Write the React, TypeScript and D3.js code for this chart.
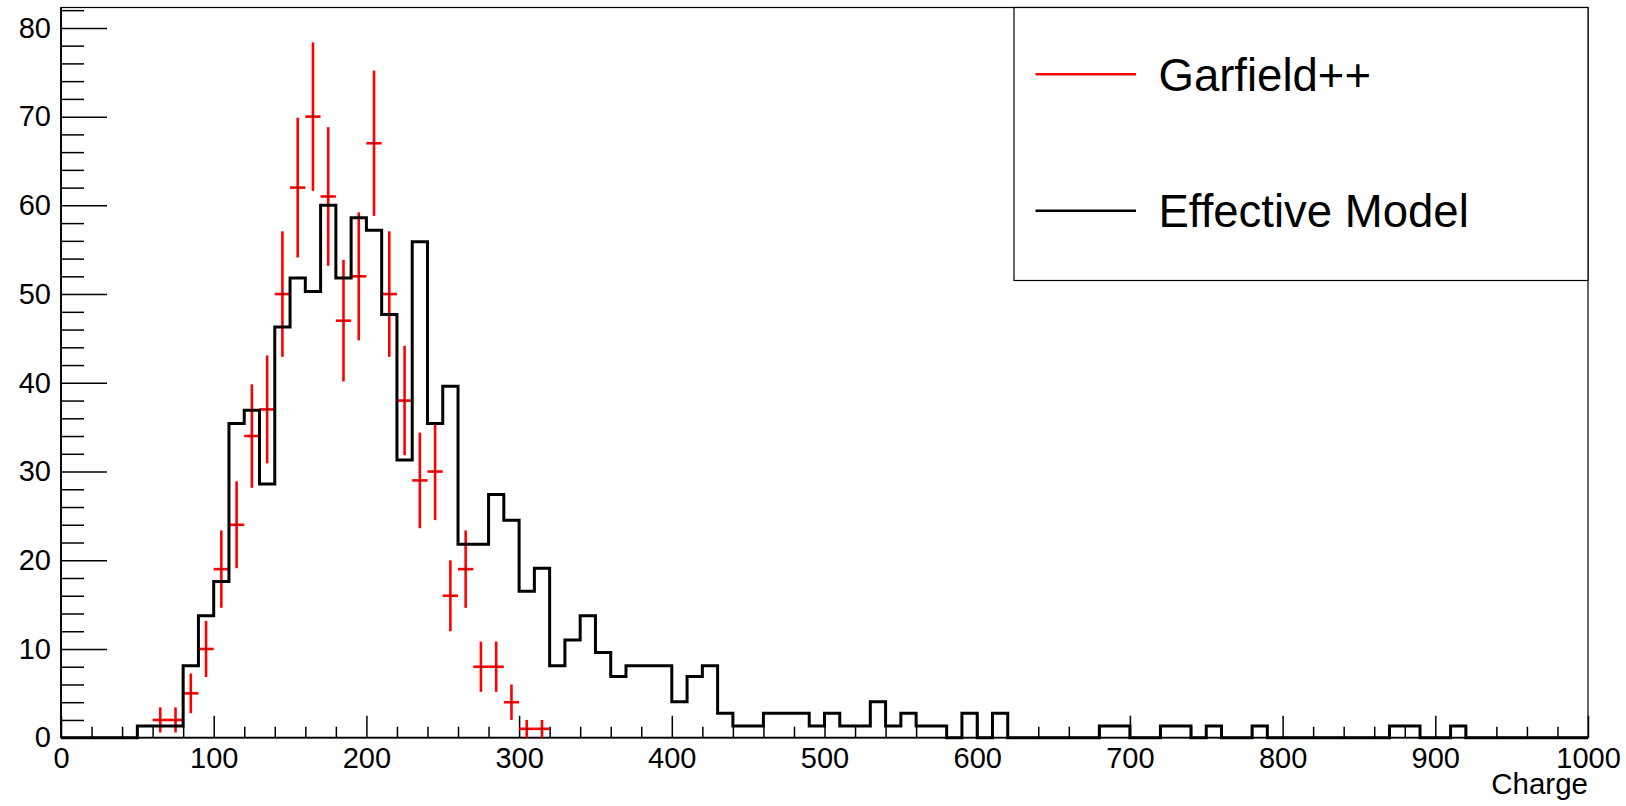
import { useRef, useEffect } from "react";
import { select, scaleLinear, axisBottom, axisLeft, line, range } from "d3";

const W = 1626;
const H = 806;
const frame = { left: 61, right: 1588, top: 7.5, bottom: 737.7 };
const FONT = "'Liberation Sans', Arial, Helvetica, sans-serif";

// bin width of both histograms (Charge units)
const binWidth = 10;

// Effective Model histogram, 100 bins from 0 to 1000 (normalised heights)
const effectiveModel = [
  0, 0, 0, 0, 0, 1.33, 1.33, 1.33, 8.12, 13.75,
  17.6, 35.4, 36.9, 28.6, 46.3, 51.8, 50.3, 60.0, 51.8, 58.6,
  57.2, 47.7, 31.3, 55.9, 35.4, 39.6, 21.8, 21.8, 27.4, 24.5,
  16.5, 19.1, 8.12, 11.0, 13.75, 9.6, 6.9, 8.12, 8.12, 8.12,
  4.06, 6.9, 8.12, 2.75, 1.33, 1.33, 2.75, 2.75, 2.75, 1.33,
  2.75, 1.33, 1.33, 4.06, 1.33, 2.75, 1.33, 1.33, 0, 2.75,
  0, 2.75, 0, 0, 0, 0, 0, 0, 1.33, 1.33,
  0, 0, 1.33, 1.33, 0, 1.33, 0, 0, 1.33, 0,
  0, 0, 0, 0, 0, 0, 0, 1.33, 1.33, 0,
  0, 1.33, 0, 0, 0, 0, 0, 0, 0, 0,
];

// Garfield++ counts (lower bin edge -> entries), errors are sqrt(N)
const garfieldBins = [60, 70, 80, 90, 100, 110, 120, 130, 140, 150, 160, 170, 180,
  190, 200, 210, 220, 230, 240, 250, 260, 270, 280, 290, 300, 310];
const garfieldCounts = [2, 2, 5, 10, 19, 24, 34, 37, 50, 62, 70, 61, 47,
  52, 67, 50, 38, 29, 30, 16, 19, 8, 8, 4, 1, 1];

const xMajorTicks = [0, 100, 200, 300, 400, 500, 600, 700, 800, 900, 1000];
const yMajorTicks = [0, 10, 20, 30, 40, 50, 60, 70, 80];
const legendLabels = ["Garfield++", "Effective Model"];
const legendColors = ["#ff0000", "#000000"];
const xTitle = "Charge";
const yMax = 82.3;

function App() {
  const svgRef = useRef<SVGSVGElement>(null);

  useEffect(() => {
    const svg = select(svgRef.current);
    svg.selectAll("*").remove();

    const x = scaleLinear().domain([0, 1000]).range([frame.left, frame.right]);
    const y = scaleLinear().domain([0, yMax]).range([frame.bottom, frame.top]);

    // frame
    svg.append("rect")
      .attr("x", frame.left)
      .attr("y", frame.top)
      .attr("width", frame.right - frame.left)
      .attr("height", frame.bottom - frame.top)
      .attr("fill", "none")
      .attr("stroke", "#000")
      .attr("stroke-width", 1.2);

    // x axis: minor ticks then major ticks with labels
    const xMinor = range(0, 1001, 20).filter(v => v % 100 !== 0);
    svg.append("g")
      .attr("transform", `translate(0,${frame.bottom})`)
      .call(axisBottom(x).tickValues(xMinor).tickSize(-11).tickFormat(() => ""))
      .call(g => g.select(".domain").remove());
    const gx = svg.append("g")
      .attr("transform", `translate(0,${frame.bottom})`)
      .call(axisBottom(x).tickValues(xMajorTicks).tickSize(-22).tickPadding(9.5).tickFormat(d => String(d)))
      .call(g => g.select(".domain").remove());
    gx.selectAll("text").style("font-family", FONT).style("font-size", "29px").attr("fill", "#000");

    // y axis
    const yMinor = range(0, yMax, 2).filter(v => v % 10 !== 0);
    svg.append("g")
      .attr("transform", `translate(${frame.left},0)`)
      .call(axisLeft(y).tickValues(yMinor).tickSize(-23).tickFormat(() => ""))
      .call(g => g.select(".domain").remove());
    const gy = svg.append("g")
      .attr("transform", `translate(${frame.left},0)`)
      .call(axisLeft(y).tickValues(yMajorTicks).tickSize(-46).tickPadding(10).tickFormat(d => String(d)))
      .call(g => g.select(".domain").remove());
    gy.selectAll("text").style("font-family", FONT).style("font-size", "29px").attr("fill", "#000");

    svg.selectAll(".tick line").attr("stroke", "#000").attr("stroke-width", 1.5);

    // axis lines
    svg.append("line")
      .attr("x1", frame.left).attr("x2", frame.right)
      .attr("y1", frame.bottom).attr("y2", frame.bottom)
      .attr("stroke", "#000").attr("stroke-width", 1.8);
    svg.append("line")
      .attr("x1", frame.left).attr("x2", frame.left)
      .attr("y1", frame.bottom).attr("y2", frame.top)
      .attr("stroke", "#000").attr("stroke-width", 1.8);

    // x title
    svg.append("text")
      .attr("x", frame.right)
      .attr("y", 794)
      .attr("text-anchor", "end")
      .style("font-family", FONT)
      .style("font-size", "29.5px")
      .text(xTitle);

    // Garfield++ error crosses
    const gf = svg.append("g").attr("stroke", legendColors[0]).attr("stroke-width", 2.6);
    garfieldBins.forEach((lo, i) => {
      const n = garfieldCounts[i];
      const err = Math.sqrt(n);
      const cx = x(lo + binWidth / 2);
      gf.append("line")
        .attr("x1", x(lo)).attr("x2", x(lo + binWidth))
        .attr("y1", y(n)).attr("y2", y(n));
      gf.append("line")
        .attr("x1", cx).attr("x2", cx)
        .attr("y1", y(n - err)).attr("y2", y(n + err));
      svg.append("rect")
        .attr("x", cx - 0.75).attr("y", y(n) - 0.75)
        .attr("width", 1.5).attr("height", 1.5)
        .attr("fill", "#000");
    });

    // Effective Model step histogram
    const pts: [number, number][] = [[0, 0]];
    effectiveModel.forEach((v, i) => {
      pts.push([i * binWidth, v]);
      pts.push([(i + 1) * binWidth, v]);
    });
    pts.push([effectiveModel.length * binWidth, 0]);
    svg.append("path")
      .attr("d", line<[number, number]>().x(d => x(d[0])).y(d => y(d[1]))(pts))
      .attr("fill", "none")
      .attr("stroke", "#000")
      .attr("stroke-width", 3)
      .attr("stroke-linejoin", "miter");

    // legend
    const lg = { x: 1014, y: frame.top, w: frame.right - 1014, h: 273 };
    const margin = lg.w * 0.25;
    const rowH = lg.h / legendLabels.length;
    svg.append("rect")
      .attr("x", lg.x).attr("y", lg.y)
      .attr("width", lg.w).attr("height", lg.h)
      .attr("fill", "#fff")
      .attr("stroke", "#000")
      .attr("stroke-width", 1.2);
    legendLabels.forEach((label, i) => {
      const cy = lg.y + rowH * (i + 0.5) - 1.5;
      svg.append("line")
        .attr("x1", lg.x + margin * 0.15).attr("x2", lg.x + margin * 0.85)
        .attr("y1", cy).attr("y2", cy)
        .attr("stroke", legendColors[i])
        .attr("stroke-width", 2.6);
      svg.append("text")
        .attr("x", lg.x + margin + 1)
        .attr("y", cy + 16.5)
        .style("font-family", FONT)
        .style("font-size", "45.5px")
        .text(label);
    });
  }, []);

  return (
    <svg
      ref={svgRef}
      width={W}
      height={H}
      style={{ position: "absolute", left: 0, top: 0, background: "#fff", display: "block" }}
    />
  );
}

export default App;
